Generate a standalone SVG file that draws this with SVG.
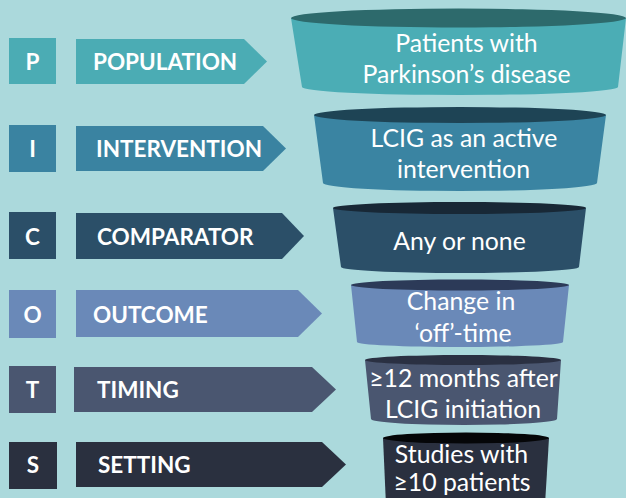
<svg xmlns="http://www.w3.org/2000/svg" width="626" height="498" viewBox="0 0 626 498">
<style>
.lbl{font-family:Lato,"Open Sans","Liberation Sans",sans-serif;font-weight:bold;font-size:22.5px;fill:#fff}
.let{font-family:Lato,"Open Sans","Liberation Sans",sans-serif;font-weight:bold;font-size:22.5px;fill:#fff;text-anchor:middle}
.ft{font-family:Lato,"Open Sans","Liberation Sans",sans-serif;font-size:24.8px;fill:#fff;text-anchor:middle}
</style>
<rect width="626" height="498" fill="#ABD9DC"/>
<g id="connectors"></g>
<g id="row-P">
<rect x="9" y="38" width="47" height="46" fill="#4BACB4"/>
<text class="let" x="32.5" y="70">P</text>
<polygon points="76,39 244,39 267,61.5 244,84 76,84" fill="#4BACB4"/>
<text class="lbl" x="93" y="70">POPULATION</text>
</g>
<g id="row-I">
<rect x="9" y="125" width="47" height="47" fill="#3A83A1"/>
<text class="let" x="32.5" y="157">I</text>
<polygon points="76,126 263,126 286,148.5 263,171 76,171" fill="#3A83A1"/>
<text class="lbl" x="96" y="157">INTERVENTION</text>
</g>
<g id="row-C">
<rect x="9" y="212" width="47" height="47" fill="#2B4F68"/>
<text class="let" x="32.5" y="245">C</text>
<polygon points="76,213 282,213 304,236 282,259 76,259" fill="#2B4F68"/>
<text class="lbl" x="97" y="245">COMPARATOR</text>
</g>
<g id="row-O">
<rect x="9" y="290" width="47" height="48" fill="#6A89B8"/>
<text class="let" x="32.5" y="323">O</text>
<polygon points="76,290 298,290 322,313.5 298,337 76,337" fill="#6A89B8"/>
<text class="lbl" x="93" y="323">OUTCOME</text>
</g>
<g id="row-T">
<rect x="9" y="366" width="47" height="47" fill="#4A5670"/>
<text class="let" x="32.5" y="398">T</text>
<polygon points="74,367 312,367 336,389.5 312,412 74,412" fill="#4A5670"/>
<text class="lbl" x="97" y="398">TIMING</text>
</g>
<g id="row-S">
<rect x="9" y="442" width="48" height="47" fill="#2A303F"/>
<text class="let" x="33" y="473">S</text>
<polygon points="76,442 322,442 346,464.5 322,487 76,487" fill="#2A303F"/>
<text class="lbl" x="98" y="473">SETTING</text>
</g>
<g id="funnel-1">
<path d="M291,18 L302,87 A158,8 0 0 0 618,87 L626,18 Z" fill="#4BADB5"/>
<ellipse cx="458.5" cy="18" rx="167.5" ry="9.5" fill="#2D6A6C"/>
<text class="ft" x="466.5" y="52">Patients with</text>
<text class="ft" x="466.5" y="83">Parkinson’s disease</text>
</g>
<g id="funnel-2">
<path d="M314,115 L323,183 A137,8 0 0 0 597,183 L606,115 Z" fill="#3A84A2"/>
<ellipse cx="460" cy="115" rx="146" ry="8" fill="#1E4455"/>
<text class="ft" x="464" y="147">LCIG as an active</text>
<text class="ft" x="463.5" y="178">intervention</text>
</g>
<g id="funnel-3">
<path d="M333,208 L341,267 A119,6 0 0 0 579,267 L586,208 Z" fill="#2B4F68"/>
<ellipse cx="459.5" cy="208" rx="126.5" ry="6" fill="#182836"/>
<text class="ft" x="459.5" y="250">Any or none</text>
</g>
<g id="funnel-4">
<path d="M351,285 L357,342 A103,5 0 0 0 563,342 L569,285 Z" fill="#6A89B8"/>
<ellipse cx="460" cy="285" rx="109" ry="5.5" fill="#2C3A58"/>
<text class="ft" x="461" y="310">Change in</text>
<text class="ft" x="463" y="342">‘off’-time</text>
</g>
<g id="funnel-5">
<path d="M365,360 L371,419 A93,6 0 0 0 557,419 L561,360 Z" fill="#4A5670"/>
<ellipse cx="463" cy="360" rx="98" ry="5" fill="#2A3042"/>
<text class="ft" x="463.5" y="387">≥12 months after</text>
<text class="ft" x="463" y="418">LCIG initiation</text>
</g>
<g id="funnel-6">
<path d="M383,438 L386,505 L545,505 L549,438 Z" fill="#2A303F"/>
<ellipse cx="466" cy="438" rx="83" ry="5.5" fill="#050608"/>
<text class="ft" x="461.5" y="463">Studies with</text>
<text class="ft" x="462" y="491">≥10 patients</text>
</g>
</svg>
